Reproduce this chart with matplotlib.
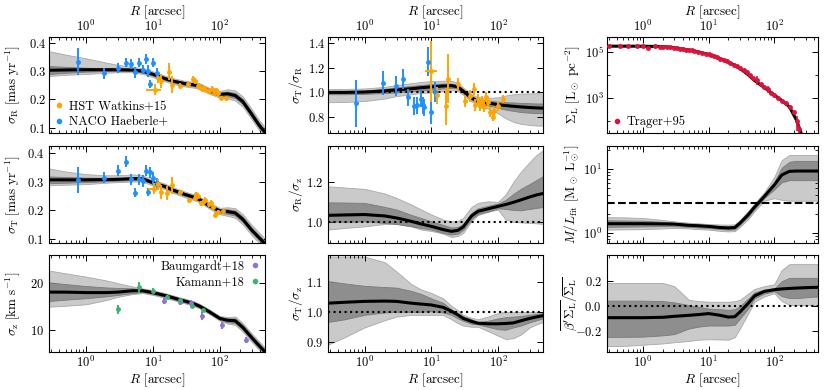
import numpy as np
import matplotlib
matplotlib.use("Agg")
import matplotlib.pyplot as plt
from matplotlib.lines import Line2D
import matplotlib.ticker as mticker

plt.rcParams["font.family"] = ["cmr10", "DejaVu Serif"]
plt.rcParams["mathtext.fontset"] = "cm"
plt.rcParams["axes.formatter.use_mathtext"] = True
plt.rcParams["axes.unicode_minus"] = False

# common radial grid of the model curves [arcsec]
R = [0.28, 0.5, 1, 2, 3, 5, 7, 10, 15, 20, 25, 30, 40, 50, 70, 100, 130, 170, 220, 300, 380, 470]

# sigma_R [mas/yr]
sR_med = [.303, .304, .305, .305, .305, .304, .300, .289, .274, .265, .260, .256, .252, .247, .230, .218, .220, .214, .193, .148, .112, .085]
sR_in_hi = [.318, .315, .312, .310, .309, .308, .305, .294, .279, .270, .265, .261, .257, .252, .235, .224, .228, .223, .202, .157, .121, .094]
sR_in_lo = [.290, .294, .298, .300, .301, .300, .295, .284, .269, .260, .255, .251, .247, .242, .225, .212, .212, .205, .184, .139, .103, .076]
sR_out_hi = [.370, .358, .345, .330, .322, .315, .310, .299, .284, .275, .270, .266, .262, .257, .240, .230, .236, .232, .211, .166, .130, .103]
sR_out_lo = [.283, .287, .290, .294, .296, .296, .290, .279, .264, .255, .250, .246, .242, .237, .220, .206, .204, .196, .175, .130, .094, .067]

# sigma_T [mas/yr]
sT_med = [.306, .306, .306, .307, .308, .310, .310, .296, .283, .270, .262, .255, .246, .237, .215, .197, .195, .190, .168, .130, .105, .083]
sT_in_hi = [.318, .316, .314, .313, .313, .315, .315, .301, .288, .275, .267, .260, .251, .242, .220, .203, .203, .199, .177, .139, .114, .092]
sT_in_lo = [.294, .296, .298, .301, .303, .305, .305, .291, .278, .265, .257, .250, .241, .232, .210, .191, .187, .181, .159, .121, .096, .074]
sT_out_hi = [.346, .335, .326, .322, .322, .325, .322, .306, .293, .280, .272, .265, .256, .247, .225, .208, .210, .207, .186, .148, .123, .101]
sT_out_lo = [.287, .289, .291, .296, .298, .300, .300, .286, .273, .260, .252, .245, .236, .227, .205, .186, .180, .173, .150, .112, .087, .065]

# sigma_z [km/s]
sz_med = [18.1, 18.1, 18.0, 18.0, 18.1, 18.4, 18.4, 18.0, 17.4, 16.9, 16.5, 16.2, 15.7, 15.1, 13.9, 12.5, 12.1, 12.0, 10.6, 8.4, 6.8, 5.4]
sz_in_hi = [20.2, 19.8, 19.4, 19.1, 19.0, 18.9, 18.7, 18.3, 17.7, 17.2, 16.8, 16.5, 16.0, 15.4, 14.2, 12.8, 12.5, 12.5, 11.1, 8.9, 7.3, 5.9]
sz_in_lo = [16.2, 16.5, 16.8, 17.2, 17.5, 17.9, 18.1, 17.7, 17.1, 16.6, 16.2, 15.9, 15.4, 14.8, 13.6, 12.2, 11.7, 11.5, 10.1, 7.9, 6.3, 4.9]
sz_out_hi = [22.7, 22.1, 21.4, 20.6, 20.0, 19.3, 18.9, 18.5, 17.9, 17.4, 17.0, 16.7, 16.2, 15.6, 14.4, 13.0, 12.8, 12.9, 11.5, 9.3, 7.7, 6.3]
sz_out_lo = [15.0, 15.2, 15.5, 16.4, 17.1, 17.7, 17.9, 17.5, 16.9, 16.4, 16.0, 15.7, 15.2, 14.6, 13.4, 12.0, 11.4, 11.1, 9.7, 7.5, 5.9, 4.5]

# sigma_T / sigma_R
tr_med = [1.000, 1.000, 1.003, 1.012, 1.020, 1.030, 1.038, 1.045, 1.052, 1.055, 1.045, 1.010, 0.955, 0.930, 0.915, 0.900, 0.893, 0.887, 0.882, 0.877, 0.874, 0.872]
tr_in_hi = [1.012, 1.012, 1.015, 1.030, 1.040, 1.052, 1.060, 1.068, 1.072, 1.072, 1.060, 1.025, 0.970, 0.945, 0.935, 0.925, 0.920, 0.918, 0.915, 0.912, 0.910, 0.910]
tr_in_lo = [0.985, 0.985, 0.988, 0.995, 1.000, 1.008, 1.015, 1.022, 1.032, 1.038, 1.030, 0.995, 0.940, 0.915, 0.895, 0.875, 0.860, 0.850, 0.840, 0.835, 0.832, 0.830]
tr_out_hi = [1.028, 1.028, 1.032, 1.045, 1.060, 1.075, 1.085, 1.092, 1.095, 1.093, 1.080, 1.040, 0.985, 0.960, 0.955, 0.960, 0.975, 0.985, 0.990, 0.992, 0.993, 0.993]
tr_out_lo = [0.920, 0.922, 0.930, 0.950, 0.970, 0.985, 0.995, 1.000, 1.010, 1.018, 1.010, 0.980, 0.925, 0.900, 0.870, 0.830, 0.790, 0.760, 0.745, 0.735, 0.730, 0.730]

# sigma_R / sigma_z
rz_med = [1.033, 1.035, 1.037, 1.030, 1.020, 1.003, 0.990, 0.978, 0.962, 0.953, 0.958, 0.975, 1.030, 1.053, 1.065, 1.078, 1.087, 1.098, 1.110, 1.125, 1.135, 1.142]
rz_in_hi = [1.098, 1.097, 1.095, 1.075, 1.062, 1.035, 1.020, 1.003, 0.985, 0.972, 0.975, 0.990, 1.045, 1.068, 1.080, 1.092, 1.110, 1.140, 1.165, 1.190, 1.210, 1.228]
rz_in_lo = [1.003, 1.000, 1.003, 0.995, 0.990, 0.978, 0.970, 0.962, 0.945, 0.937, 0.942, 0.960, 1.015, 1.040, 1.052, 1.068, 1.065, 1.060, 1.058, 1.065, 1.070, 1.075]
rz_out_hi = [1.178, 1.172, 1.165, 1.142, 1.120, 1.087, 1.062, 1.037, 1.012, 1.003, 1.005, 1.020, 1.075, 1.095, 1.103, 1.100, 1.137, 1.200, 1.250, 1.300, 1.335, 1.358]
rz_out_lo = [0.962, 0.970, 0.978, 0.990, 0.990, 0.978, 0.962, 0.955, 0.942, 0.925, 0.930, 0.945, 1.005, 1.035, 1.050, 1.062, 1.012, 1.000, 0.998, 0.995, 0.993, 0.990]

# sigma_T / sigma_z
tz_med = [1.029, 1.032, 1.035, 1.036, 1.035, 1.029, 1.026, 1.023, 1.015, 1.002, 0.990, 0.978, 0.968, 0.962, 0.960, 0.960, 0.961, 0.963, 0.970, 0.978, 0.983, 0.987]
tz_in_hi = [1.103, 1.095, 1.087, 1.083, 1.081, 1.070, 1.060, 1.045, 1.030, 1.008, 0.995, 0.985, 0.975, 0.966, 0.970, 0.978, 0.982, 0.984, 0.986, 0.990, 0.993, 0.996]
tz_in_lo = [0.966, 0.975, 0.990, 0.998, 1.000, 1.000, 1.000, 1.002, 0.998, 0.990, 0.978, 0.970, 0.960, 0.958, 0.950, 0.942, 0.940, 0.948, 0.954, 0.965, 0.972, 0.978]
tz_out_hi = [1.185, 1.185, 1.185, 1.166, 1.135, 1.093, 1.075, 1.063, 1.045, 1.020, 1.005, 0.990, 0.980, 0.975, 0.984, 0.996, 1.000, 1.000, 1.000, 1.000, 1.000, 1.000]
tz_out_lo = [0.890, 0.915, 0.948, 0.972, 0.984, 0.990, 0.990, 0.990, 0.990, 0.975, 0.962, 0.954, 0.950, 0.950, 0.936, 0.920, 0.909, 0.912, 0.924, 0.948, 0.958, 0.966]

# M / L_fit
ml_med = [1.40, 1.40, 1.40, 1.39, 1.38, 1.32, 1.30, 1.27, 1.22, 1.20, 1.22, 1.43, 1.93, 2.54, 3.71, 5.63, 8.06, 9.2, 9.3, 9.3, 9.3, 9.3]
ml_in_hi = [1.58, 1.57, 1.56, 1.50, 1.45, 1.38, 1.36, 1.32, 1.28, 1.27, 1.29, 1.50, 2.05, 2.70, 3.95, 6.3, 10.5, 13.0, 13.4, 13.4, 13.4, 13.4]
ml_in_lo = [1.25, 1.26, 1.27, 1.28, 1.28, 1.25, 1.22, 1.20, 1.15, 1.13, 1.14, 1.35, 1.80, 2.38, 3.50, 4.8, 6.2, 6.7, 6.7, 6.7, 6.7, 6.7]
ml_out_hi = [1.77, 1.76, 1.72, 1.60, 1.52, 1.45, 1.42, 1.38, 1.36, 1.35, 1.37, 1.60, 2.20, 2.90, 4.30, 7.5, 13.8, 16.5, 16.5, 16.5, 16.5, 16.5]
ml_out_lo = [1.13, 1.14, 1.15, 1.18, 1.20, 1.18, 1.15, 1.13, 1.08, 1.06, 1.07, 1.25, 1.65, 2.20, 3.20, 3.5, 3.3, 3.2, 3.2, 3.2, 3.2, 3.2]
ml_ref = 3.0

# beta' Sigma_L / Sigma_L
bt_med = [-0.093, -0.093, -0.093, -0.090, -0.082, -0.074, -0.068, -0.060, -0.074, -0.088, -0.085, -0.047, 0.022, 0.082, 0.118, 0.132, 0.138, 0.142, 0.145, 0.148, 0.150, 0.151]
bt_in_hi = [0.044, 0.044, 0.044, 0.040, 0.030, 0.008, -0.005, -0.020, -0.025, -0.030, -0.025, 0.000, 0.060, 0.110, 0.130, 0.140, 0.200, 0.227, 0.227, 0.227, 0.227, 0.227]
bt_in_lo = [-0.247, -0.247, -0.245, -0.235, -0.225, -0.180, -0.165, -0.156, -0.156, -0.156, -0.150, -0.100, -0.020, 0.063, 0.100, 0.120, 0.080, 0.065, 0.065, 0.070, 0.075, 0.077]
bt_out_hi = [0.186, 0.186, 0.186, 0.186, 0.160, 0.050, 0.040, 0.035, 0.035, 0.035, 0.040, 0.050, 0.100, 0.137, 0.160, 0.175, 0.290, 0.337, 0.337, 0.337, 0.337, 0.337]
bt_out_lo = [-0.320, -0.320, -0.310, -0.300, -0.290, -0.280, -0.270, -0.266, -0.268, -0.270, -0.250, -0.180, -0.060, 0.035, 0.077, 0.104, 0.040, 0.010, 0.008, 0.008, 0.008, 0.008]

# surface brightness model [Lsun/pc^2]
sb_model = [1.76e5, 1.76e5, 1.75e5, 1.70e5, 1.51e5, 1.20e5, 9.8e4, 7.6e4, 5.1e4, 3.55e4, 2.6e4, 1.9e4, 1.0e4, 5.6e3, 2.8e3, 1.32e3, 760, 400, 100, 8, 2, 1]

# Trager+95 surface brightness
R_tr = [0.3, 0.45, 0.6, 0.8, 1.0, 1.2, 1.5, 1.8, 2.0, 2.3, 2.6, 3.0, 3.3, 3.7, 4.0, 4.5, 5.0, 5.5, 6.0, 7.0, 8.0, 9.0, 10, 11, 12, 13.5, 15, 17, 19, 21, 24, 27, 30, 34, 38, 43, 48, 55, 62, 70, 80, 90, 100, 115, 130, 150, 175, 200, 220, 235]
sb_tr = [1.78e5, 1.74e5, 1.78e5, 1.74e5, 1.78e5, 1.51e5, 1.74e5, 1.66e5, 1.70e5, 1.58e5, 1.62e5, 1.41e5, 1.48e5, 1.35e5, 1.32e5, 1.26e5, 1.17e5, 1.15e5, 1.10e5, 1.0e5, 9.1e4, 8.3e4, 7.8e4, 7.1e4, 6.6e4, 5.75e4, 5.1e4, 4.4e4, 3.8e4, 3.4e4, 2.8e4, 2.3e4, 1.95e4, 1.55e4, 1.26e4, 9.3e3, 7.1e3, 6.0e3, 3.8e3, 2.9e3, 2.4e3, 1.66e3, 1.32e3, 1.0e3, 740, 560, 380, 230, 95, 45]
sb_tr_err = [0, 0, 0, 0, 0, 0, 0, 0, 0, 0, 0, 0, 0, 0, 0, 0, 0, 0, 0, 0, 0, 0, 0, 0, 0, 0, 0, 0, 0, 0, 0, 0, 0, 0, 0, 0, 0, 2.5e3, 0, 0, 800, 0, 0, 0, 0, 0, 0, 0, 60, 25]

# NACO (Haeberle+) proper motions
R_naco = [0.75, 1.88, 3.0, 3.9, 4.7, 5.4, 6.3, 7.0, 7.8, 8.4, 9.2, 10.1, 11.5]
sR_naco = [0.333, 0.292, 0.312, 0.330, 0.324, 0.296, 0.329, 0.305, 0.342, 0.300, 0.256, 0.330, 0.292]
sR_naco_err = [0.047, 0.02, 0.017, 0.016, 0.017, 0.02, 0.016, 0.015, 0.018, 0.02, 0.014, 0.017, 0.02]
sT_naco = [0.305, 0.314, 0.338, 0.370, 0.308, 0.261, 0.308, 0.302, 0.338, 0.264, 0.332, 0.312, 0.294]
sT_naco_err = [0.045, 0.02, 0.02, 0.02, 0.02, 0.015, 0.02, 0.02, 0.02, 0.015, 0.02, 0.02, 0.02]
R_naco_tr = [0.75, 1.9, 2.9, 3.7, 4.5, 5.4, 6.0, 7.0, 7.4, 7.8, 8.9, 10.0, 11.5]
tr_naco = [0.91, 1.075, 1.05, 1.11, 0.96, 0.89, 0.895, 0.95, 0.895, 0.88, 1.25, 0.84, 1.005]
tr_naco_err = [0.19, 0.1, 0.08, 0.08, 0.07, 0.07, 0.07, 0.07, 0.07, 0.07, 0.12, 0.1, 0.08]

# HST (Watkins+15) proper motions
R_hst = [10.6, 11.9, 13.4, 17.5, 19.5, 25.5, 33.5, 40, 42, 47, 50, 55, 59, 63, 69, 77, 82, 89, 95, 106, 125]
sR_hst = [0.235, 0.274, 0.265, 0.297, 0.252, 0.249, 0.256, 0.272, 0.265, 0.249, 0.245, 0.238, 0.241, 0.233, 0.229, 0.238, 0.224, 0.233, 0.222, 0.206, 0.204]
sR_hst_err = [0.02, 0.015, 0.025, 0.03, 0.03, 0.008, 0.008, 0.01, 0.01, 0.008, 0.008, 0.008, 0.008, 0.008, 0.008, 0.01, 0.008, 0.008, 0.008, 0.006, 0.006]
R_hst_t = [10.5, 12, 13.2, 16, 19.5, 25.5, 34.6, 42, 44, 48, 52, 56, 61, 69, 74, 78, 85, 95, 113]
sT_hst = [0.275, 0.29, 0.263, 0.261, 0.287, 0.263, 0.234, 0.243, 0.255, 0.249, 0.224, 0.229, 0.237, 0.22, 0.226, 0.211, 0.184, 0.192, 0.196]
sT_hst_err = [0.02, 0.02, 0.025, 0.025, 0.03, 0.008, 0.008, 0.01, 0.01, 0.008, 0.008, 0.008, 0.008, 0.008, 0.008, 0.008, 0.008, 0.008, 0.006]
R_hst_tr = [10, 12, 16.5, 18, 25, 32, 38, 43, 45, 50, 53, 57, 61, 66, 71, 77, 85, 88, 99, 118]
tr_hst = [1.17, 0.975, 0.886, 1.11, 1.065, 0.93, 0.973, 1.027, 0.9, 0.945, 0.89, 0.93, 0.88, 0.96, 0.92, 0.84, 0.80, 0.85, 0.89, 0.945]
tr_hst_err = [0.25, 0.07, 0.15, 0.2, 0.05, 0.05, 0.05, 0.05, 0.05, 0.04, 0.04, 0.04, 0.04, 0.04, 0.04, 0.04, 0.03, 0.04, 0.04, 0.03]

# line-of-sight dispersions [km/s]
R_kam = [3.06, 6.3, 10.1, 16.2, 25.5, 39, 56]
sz_kam = [14.4, 19.1, 18.4, 17.1, 16.4, 15.1, 14.3]
sz_kam_err = [0.9, 1.2, 0.5, 0.3, 0.3, 0.3, 0.3]
R_bau = [14.5, 25, 37, 54, 107, 250]
sz_bau = [16.2, 15.9, 15.7, 13.0, 11.0, 7.9]
sz_bau_err = [0.6, 0.5, 0.7, 0.9, 0.7, 0.6]

c_naco = "#1e90ff"
c_hst = "#ffa500"
c_kam = "#3cb371"
c_bau = "#9370db"
c_tr = "#dc143c"

fig = plt.figure(figsize=(8.3, 3.9), dpi=100)
lefts = [0.059, 0.395, 0.731]
widths = [0.260, 0.259, 0.255]
bottoms = [0.659, 0.377, 0.097]
heights = [0.246, 0.249, 0.249]
axs = [[fig.add_axes([lefts[c], bottoms[r], widths[c], heights[r]]) for c in range(3)] for r in range(3)]


def band(ax, med, in_lo, in_hi, out_lo, out_hi):
    ax.fill_between(R, out_lo, out_hi, facecolor="#cacaca", edgecolor="#a8a8a8", lw=0.6, zorder=1)
    ax.fill_between(R, in_lo, in_hi, facecolor="#8e8e8e", edgecolor="#7a7a7a", lw=0.6, zorder=2)
    ax.plot(R, med, color="k", lw=2.2, zorder=3)


def points(ax, x, y, yerr, color, xerr=None):
    ax.errorbar(x, y, yerr=yerr, xerr=xerr, fmt="o", ms=2.5, color=color, elinewidth=1.4, capsize=0, zorder=4)


for row in axs:
    for ax in row:
        ax.set_xscale("log")
        ax.set_xlim(0.28, 470)
        ax.tick_params(which="both", direction="in", top=True, right=True, labelsize=9)
        ax.tick_params(which="major", length=4, width=0.7)
        ax.tick_params(which="minor", length=2, width=0.6)
        for s in ax.spines.values():
            s.set_linewidth(0.8)
        ax.xaxis.set_minor_locator(mticker.LogLocator(base=10, subs=np.arange(2, 10) * 1.0, numticks=20))

for c in range(3):
    axs[0][c].tick_params(labeltop=True, labelbottom=False, pad=2)
    axs[0][c].xaxis.set_label_position("top")
    axs[0][c].set_xlabel(r"$R$ [arcsec]", fontsize=9.5, labelpad=3)
    axs[1][c].tick_params(labelbottom=False)
    axs[2][c].tick_params(axis="x", pad=2)
    axs[2][c].set_xlabel(r"$R$ [arcsec]", fontsize=9.5, labelpad=1)

lab = 9.5

# column 1
ax = axs[0][0]
band(ax, sR_med, sR_in_lo, sR_in_hi, sR_out_lo, sR_out_hi)
points(ax, R_naco, sR_naco, sR_naco_err, c_naco)
points(ax, R_hst[1:], sR_hst[1:], sR_hst_err[1:], c_hst)
points(ax, R_hst[:1], sR_hst[:1], sR_hst_err[:1], c_hst, xerr=[[2.6], [2.6]])
ax.set_ylim(0.082, 0.42)
ax.set_yticks([0.1, 0.2, 0.3, 0.4])
ax.set_ylabel(r"$\sigma_{\rm R}\ [{\rm mas\ yr^{-1}}]$", fontsize=lab)
h = [Line2D([], [], ls="", marker="o", ms=3, color=c_hst, label="HST Watkins+15"),
     Line2D([], [], ls="", marker="o", ms=3, color=c_naco, label="NACO Haeberle+")]
ax.legend(handles=h, loc="lower left", frameon=False, fontsize=9, handlelength=0.8,
          handletextpad=0.4, borderaxespad=0.2, labelspacing=0.25, borderpad=0.2)

ax = axs[1][0]
band(ax, sT_med, sT_in_lo, sT_in_hi, sT_out_lo, sT_out_hi)
points(ax, R_naco, sT_naco, sT_naco_err, c_naco)
points(ax, R_hst_t[1:], sT_hst[1:], sT_hst_err[1:], c_hst)
points(ax, R_hst_t[:1], sT_hst[:1], sT_hst_err[:1], c_hst, xerr=[[2.0], [2.0]])
ax.set_ylim(0.085, 0.425)
ax.set_yticks([0.1, 0.2, 0.3, 0.4])
ax.set_ylabel(r"$\sigma_{\rm T}\ [{\rm mas\ yr^{-1}}]$", fontsize=lab)

ax = axs[2][0]
band(ax, sz_med, sz_in_lo, sz_in_hi, sz_out_lo, sz_out_hi)
points(ax, R_bau, sz_bau, sz_bau_err, c_bau)
points(ax, R_kam, sz_kam, sz_kam_err, c_kam)
ax.set_ylim(5.3, 26)
ax.set_yticks([10, 20])
ax.set_ylabel(r"$\sigma_{\rm z}\ [{\rm km\ s^{-1}}]$", fontsize=lab)
h = [Line2D([], [], ls="", marker="o", ms=3, color=c_bau, label="Baumgardt+18"),
     Line2D([], [], ls="", marker="o", ms=3, color=c_kam, label="Kamann+18")]
ax.legend(handles=h, loc="upper right", frameon=False, fontsize=9, handlelength=0.8, markerfirst=False,
          handletextpad=0.4, borderaxespad=0.2, labelspacing=0.25, borderpad=0.2)

# column 2
ax = axs[0][1]
band(ax, tr_med, tr_in_lo, tr_in_hi, tr_out_lo, tr_out_hi)
ax.axhline(1.0, color="k", ls=":", lw=1.5, zorder=3)
points(ax, R_naco_tr, tr_naco, tr_naco_err, c_naco)
points(ax, R_hst_tr[1:], tr_hst[1:], tr_hst_err[1:], c_hst)
points(ax, R_hst_tr[:1], tr_hst[:1], tr_hst_err[:1], c_hst, xerr=[[2.1], [2.0]])
ax.set_ylim(0.67, 1.45)
ax.set_yticks([0.8, 1.0, 1.2, 1.4])
ax.set_ylabel(r"$\sigma_{\rm T}/\sigma_{\rm R}$", fontsize=lab)

ax = axs[1][1]
band(ax, rz_med, rz_in_lo, rz_in_hi, rz_out_lo, rz_out_hi)
ax.axhline(1.0, color="k", ls=":", lw=1.5, zorder=3)
ax.set_ylim(0.895, 1.38)
ax.set_yticks([1.0, 1.2])
ax.set_ylabel(r"$\sigma_{\rm R}/\sigma_{\rm z}$", fontsize=lab)

ax = axs[2][1]
band(ax, tz_med, tz_in_lo, tz_in_hi, tz_out_lo, tz_out_hi)
ax.axhline(1.0, color="k", ls=":", lw=1.5, zorder=3)
ax.set_ylim(0.865, 1.19)
ax.set_yticks([0.9, 1.0, 1.1])
ax.set_ylabel(r"$\sigma_{\rm T}/\sigma_{\rm z}$", fontsize=lab)

# column 3
ax = axs[0][2]
ax.plot(R, sb_model, color="k", lw=2.2, zorder=3)
ax.errorbar(R_tr, sb_tr, yerr=sb_tr_err, fmt="o", ms=2.5, color=c_tr, elinewidth=1.2, capsize=0, zorder=4)
ax.set_yscale("log")
ax.set_ylim(29, 4.4e5)
ax.yaxis.set_major_locator(mticker.FixedLocator([1e3, 1e5]))
ax.yaxis.set_minor_locator(mticker.FixedLocator([1e2, 1e4, 1e6]))
ax.yaxis.set_minor_formatter(mticker.NullFormatter())
ax.set_ylabel(r"$\Sigma_{\rm L}\ [{\rm L_\odot\ pc^{-2}}]$", fontsize=lab)
h = [Line2D([], [], ls="", marker="o", ms=3, color=c_tr, label="Trager+95")]
ax.legend(handles=h, loc="lower left", frameon=False, fontsize=9, handlelength=0.8,
          handletextpad=0.4, borderaxespad=0.2, borderpad=0.2)

ax = axs[1][2]
band(ax, ml_med, ml_in_lo, ml_in_hi, ml_out_lo, ml_out_hi)
ax.axhline(ml_ref, color="k", ls="--", lw=1.5, zorder=3)
ax.set_yscale("log")
ax.set_ylim(0.7, 23)
ax.yaxis.set_minor_formatter(mticker.NullFormatter())
ax.set_ylabel(r"$M/L_{\rm fit}\ [{\rm M_\odot\ L_\odot^{-1}}]$", fontsize=lab)

ax = axs[2][2]
band(ax, bt_med, bt_in_lo, bt_in_hi, bt_out_lo, bt_out_hi)
ax.axhline(0.0, color="k", ls=":", lw=1.5, zorder=3)
ax.set_ylim(-0.37, 0.41)
ax.set_yticks([-0.2, 0.0, 0.2])
ax.set_ylabel(r"$\overline{\beta^\prime\Sigma_{\rm L}}/\overline{\Sigma_{\rm L}}$", fontsize=lab)

for r in range(3):
    axs[r][0].yaxis.set_label_coords(-0.125, 0.5)
    axs[r][1].yaxis.set_label_coords(-0.107, 0.5)
    axs[r][2].yaxis.set_label_coords(-0.115, 0.5)
axs[2][2].yaxis.set_label_coords(-0.13, 0.5)

fig.savefig("out.png", dpi=100)
